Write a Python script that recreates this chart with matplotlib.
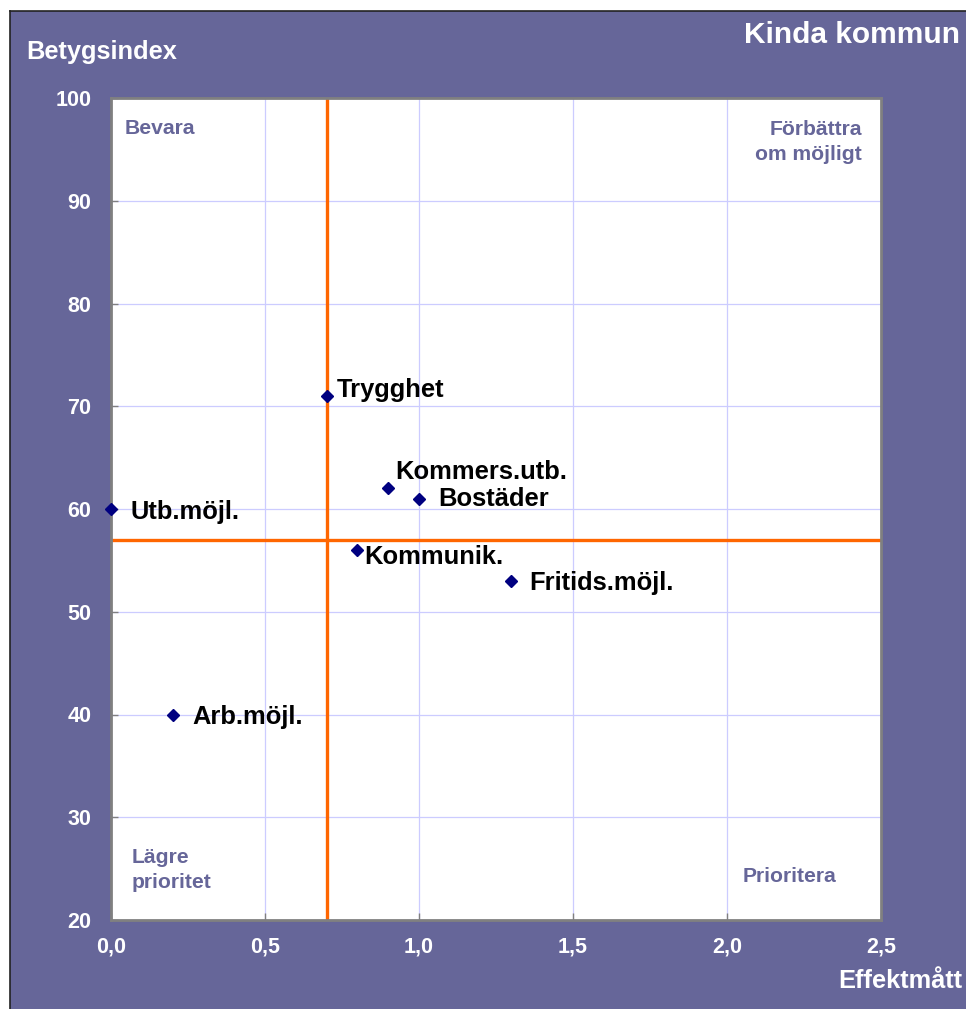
import matplotlib
matplotlib.use("Agg")
import matplotlib.pyplot as plt
from matplotlib.patches import Rectangle
from matplotlib.lines import Line2D

plt.rcParams['font.family'] = ['Liberation Sans', 'DejaVu Sans']

# Data
labels = ["Trygghet", "Kommers.utb.", "Bostäder", "Utb.möjl.", "Kommunik.", "Fritids.möjl.", "Arb.möjl."]
effekt = [0.7, 0.9, 1.0, 0.0, 0.8, 1.3, 0.2]
betyg = [71, 62, 61, 60, 56, 53, 40]
label_offsets = [(7, 4), (5, 12), (14, 0), (14, -2), (5, -5), (13, -1.5), (14, -1.5)]
x_ref = 0.7
y_ref = 57
x_ticks = [0.0, 0.5, 1.0, 1.5, 2.0, 2.5]
x_tick_labels = ["0,0", "0,5", "1,0", "1,5", "2,0", "2,5"]
y_ticks = [20, 30, 40, 50, 60, 70, 80, 90, 100]

W, H = 966, 1009
fig = plt.figure(figsize=(W / 100, H / 100), dpi=100)
fig.patch.set_facecolor('white')

purple = '#666699'
# background panel
bg = Rectangle((10 / W, 0), 1 - 10 / W, 1 - 11 / H, transform=fig.transFigure,
               facecolor=purple, edgecolor='none', zorder=-10)
fig.patches.append(bg)
fig.lines.append(Line2D([10 / W, 10 / W], [0, 1 - 11 / H], transform=fig.transFigure,
                        color='#222222', lw=1.2, zorder=-9))
fig.lines.append(Line2D([10 / W, 1], [1 - 11 / H, 1 - 11 / H], transform=fig.transFigure,
                        color='#222222', lw=1.2, zorder=-9))

ax = fig.add_axes([111 / W, (H - 920) / H, 770 / W, 822 / H])
ax.set_zorder(1)
ax.set_facecolor('white')
ax.set_xlim(0, 2.5)
ax.set_ylim(20, 100)
ax.set_xticks(x_ticks)
ax.set_xticklabels(x_tick_labels)
ax.set_yticks(y_ticks)
ax.grid(True, color='#ccccff', lw=0.9)
ax.set_axisbelow(True)
for s in ax.spines.values():
    s.set_color('#808080')
    s.set_linewidth(2)
ax.tick_params(direction='in', length=5, color='#808080', width=1,
               labelcolor='white', labelsize=15.5)
ax.tick_params(axis='y', pad=14)
ax.tick_params(axis='x', pad=12)
for t in ax.get_xticklabels() + ax.get_yticklabels():
    t.set_fontweight('bold')

ax.axvline(x_ref, color='#ff6600', lw=2.4, zorder=2)
ax.axhline(y_ref, color='#ff6600', lw=2.4, zorder=2)

ax.plot(effekt, betyg, linestyle='none', marker='D', ms=6.5, color='#000080', zorder=3, clip_on=False)
for lab, x, y, (dx, dy) in zip(labels, effekt, betyg, label_offsets):
    ax.annotate(lab, (x, y), xytext=(dx, dy), textcoords='offset points',
                ha='left', va='center', fontsize=18.4, fontweight='bold', color='black', zorder=4)

qcol = '#666699'
def ftxt(x, y, s, **kw):
    fig.text(x / W, 1 - y / H, s, zorder=5, **kw)

ftxt(125, 128, "Bevara", ha='left', va='center', fontsize=15.2, fontweight='bold', color=qcol)
ftxt(862, 142, "Förbättra\nom möjligt", ha='right', va='center', fontsize=15.2, fontweight='bold',
     color=qcol, multialignment='right', linespacing=1.35)
ftxt(132, 870, "Lägre\nprioritet", ha='left', va='center', fontsize=15.2, fontweight='bold',
     color=qcol, linespacing=1.35)
ftxt(743, 876, "Prioritera", ha='left', va='center', fontsize=15.2, fontweight='bold', color=qcol)

ftxt(26, 52, "Betygsindex", ha='left', va='center', fontsize=18.3, fontweight='bold', color='white')
ftxt(960, 35, "Kinda kommun", ha='right', va='center', fontsize=21.5, fontweight='bold', color='white')
ftxt(962, 981, "Effektmått", ha='right', va='center', fontsize=18.3, fontweight='bold', color='white')

fig.savefig("out.png", dpi=100, facecolor=fig.get_facecolor())
